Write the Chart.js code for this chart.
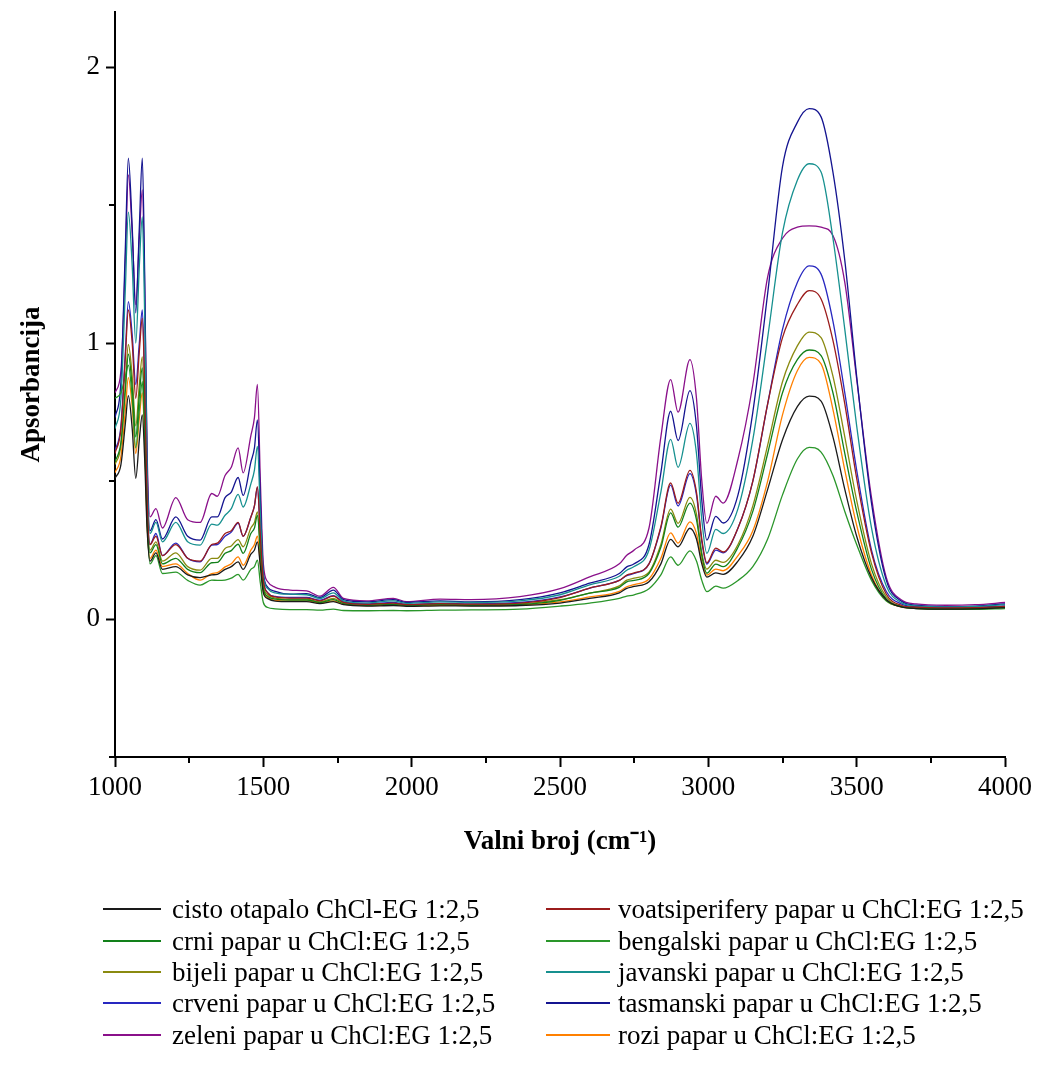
<!DOCTYPE html>
<html>
<head>
<meta charset="utf-8">
<script src="https://cdn.jsdelivr.net/npm/chart.js@4.4.0/dist/chart.umd.min.js"></script>
<style>
  body { margin: 0; background: #fff; }
  #wrap { position: relative; width: 1051px; height: 1066px; }
  #legend { position: absolute; left: 0; top: 0; width: 1051px; height: 1066px; pointer-events: none;
    font-family: 'Liberation Serif', 'Times New Roman', serif; font-size: 27px; color: #000; }
  .item { position: absolute; white-space: nowrap; line-height: 30px; }
  .item .ln { position: absolute; top: 14px; height: 1.5px; }
</style>
</head>
<body>
<div id="wrap">
  <canvas id="chart" width="1051" height="880"></canvas>
  <div id="legend"></div>
</div>
<script>
'use strict';

// wavenumber (cm-1)
const wavenumbers = [
  1000, 1020, 1035, 1045, 1058, 1070, 1082, 1092, 1100, 1108,
  1118, 1138, 1160, 1205, 1245, 1287, 1326, 1345, 1371, 1392,
  1415, 1432, 1458, 1470, 1480, 1490, 1500, 1515, 1540, 1590,
  1646, 1691, 1736, 1770, 1848, 1938, 1983, 2096, 2200, 2365,
  2500, 2600, 2700, 2725, 2750, 2800, 2840, 2873, 2898, 2938,
  2960, 2978, 2995, 3025, 3050, 3100, 3150, 3200, 3250, 3300,
  3340, 3380, 3420, 3460, 3500, 3550, 3600, 3650, 3700, 3800,
  3900, 4000
];

const cisto = [
  0.51, 0.56, 0.71, 0.81, 0.69, 0.51, 0.65, 0.74, 0.58, 0.33,
  0.21, 0.24, 0.18, 0.19, 0.16, 0.15, 0.16, 0.162, 0.18, 0.19,
  0.207, 0.18, 0.235, 0.25, 0.28, 0.19, 0.095, 0.074, 0.065, 0.063,
  0.063, 0.056, 0.063, 0.052, 0.047, 0.049, 0.046, 0.048, 0.047, 0.049,
  0.058, 0.075, 0.095, 0.111, 0.118, 0.135, 0.20, 0.289, 0.262, 0.329,
  0.29, 0.20, 0.152, 0.167, 0.162, 0.21, 0.30, 0.47, 0.65, 0.77,
  0.808, 0.79, 0.66, 0.47, 0.30, 0.15, 0.07, 0.044, 0.038, 0.036,
  0.037, 0.041
];
const voatsiperifery = [
  0.60, 0.69, 0.95, 1.12, 1.00, 0.80, 0.97, 1.09, 0.84, 0.44,
  0.27, 0.30, 0.23, 0.27, 0.22, 0.21, 0.27, 0.275, 0.31, 0.32,
  0.35, 0.30, 0.37, 0.41, 0.48, 0.30, 0.14, 0.095, 0.08, 0.076,
  0.076, 0.066, 0.083, 0.06, 0.053, 0.058, 0.052, 0.056, 0.054, 0.058,
  0.078, 0.112, 0.14, 0.159, 0.167, 0.20, 0.335, 0.493, 0.42, 0.539,
  0.46, 0.29, 0.204, 0.257, 0.243, 0.33, 0.50, 0.78, 1.02, 1.14,
  1.19, 1.16, 1.01, 0.78, 0.51, 0.24, 0.09, 0.05, 0.043, 0.04,
  0.041, 0.046
];
const crni = [
  0.57, 0.64, 0.83, 0.96, 0.84, 0.66, 0.81, 0.91, 0.71, 0.38,
  0.24, 0.27, 0.20, 0.22, 0.18, 0.168, 0.204, 0.205, 0.238, 0.248,
  0.271, 0.238, 0.31, 0.33, 0.376, 0.24, 0.11, 0.082, 0.072, 0.069,
  0.069, 0.06, 0.07, 0.056, 0.05, 0.053, 0.049, 0.052, 0.05, 0.053,
  0.068, 0.094, 0.115, 0.135, 0.14, 0.165, 0.26, 0.385, 0.333, 0.42,
  0.36, 0.23, 0.166, 0.199, 0.19, 0.26, 0.39, 0.60, 0.82, 0.94,
  0.975, 0.955, 0.82, 0.60, 0.39, 0.18, 0.072, 0.045, 0.04, 0.038,
  0.039, 0.043
];
const bengalski = [
  0.80, 0.82, 0.88, 0.92, 0.80, 0.62, 0.76, 0.86, 0.66, 0.36,
  0.20, 0.23, 0.165, 0.17, 0.14, 0.123, 0.141, 0.14, 0.141, 0.148,
  0.162, 0.141, 0.18, 0.19, 0.213, 0.13, 0.06, 0.042, 0.037, 0.034,
  0.034, 0.032, 0.036, 0.031, 0.03, 0.031, 0.03, 0.032, 0.033, 0.036,
  0.047, 0.058, 0.075, 0.083, 0.088, 0.11, 0.16, 0.225, 0.195, 0.247,
  0.21, 0.14, 0.099, 0.119, 0.112, 0.14, 0.19, 0.29, 0.45, 0.58,
  0.622, 0.605, 0.52, 0.39, 0.27, 0.14, 0.065, 0.045, 0.038, 0.035,
  0.035, 0.038
];
const bijeli = [
  0.56, 0.63, 0.85, 0.995, 0.88, 0.70, 0.85, 0.95, 0.74, 0.40,
  0.25, 0.28, 0.21, 0.24, 0.19, 0.177, 0.22, 0.22, 0.256, 0.265,
  0.288, 0.262, 0.33, 0.35, 0.388, 0.25, 0.12, 0.088, 0.076, 0.072,
  0.072, 0.062, 0.075, 0.058, 0.051, 0.055, 0.05, 0.053, 0.052, 0.055,
  0.07, 0.094, 0.12, 0.141, 0.148, 0.17, 0.27, 0.398, 0.347, 0.441,
  0.38, 0.24, 0.181, 0.213, 0.205, 0.27, 0.41, 0.63, 0.86, 0.99,
  1.04, 1.02, 0.88, 0.66, 0.43, 0.20, 0.08, 0.047, 0.041, 0.039,
  0.04, 0.044
];
const javanski = [
  0.69, 0.80, 1.20, 1.475, 1.28, 1.00, 1.28, 1.457, 1.10, 0.54,
  0.31, 0.35, 0.28, 0.35, 0.28, 0.268, 0.344, 0.34, 0.376, 0.40,
  0.452, 0.406, 0.49, 0.54, 0.626, 0.38, 0.16, 0.11, 0.095, 0.09,
  0.088, 0.075, 0.095, 0.066, 0.058, 0.066, 0.057, 0.062, 0.06, 0.066,
  0.088, 0.124, 0.155, 0.177, 0.19, 0.25, 0.46, 0.651, 0.55, 0.709,
  0.60, 0.36, 0.238, 0.325, 0.31, 0.40, 0.65, 1.02, 1.40, 1.59,
  1.65, 1.62, 1.38, 1.05, 0.70, 0.33, 0.12, 0.06, 0.048, 0.044,
  0.046, 0.052
];
const crveni = [
  0.61, 0.70, 0.97, 1.15, 1.03, 0.85, 1.00, 1.12, 0.86, 0.45,
  0.27, 0.31, 0.23, 0.275, 0.22, 0.207, 0.268, 0.27, 0.30, 0.315,
  0.348, 0.30, 0.37, 0.41, 0.477, 0.30, 0.14, 0.095, 0.082, 0.078,
  0.078, 0.068, 0.085, 0.062, 0.055, 0.06, 0.053, 0.057, 0.055, 0.06,
  0.08, 0.112, 0.14, 0.157, 0.165, 0.20, 0.33, 0.485, 0.41, 0.527,
  0.45, 0.28, 0.199, 0.25, 0.24, 0.33, 0.50, 0.78, 1.05, 1.22,
  1.28, 1.25, 1.08, 0.82, 0.54, 0.25, 0.10, 0.055, 0.045, 0.042,
  0.043, 0.048
];
const tasmanski = [
  0.73, 0.86, 1.35, 1.67, 1.42, 1.11, 1.42, 1.67, 1.25, 0.58,
  0.32, 0.36, 0.29, 0.37, 0.30, 0.286, 0.37, 0.37, 0.44, 0.46,
  0.513, 0.448, 0.569, 0.62, 0.722, 0.43, 0.17, 0.115, 0.10, 0.09,
  0.092, 0.078, 0.105, 0.07, 0.062, 0.07, 0.06, 0.066, 0.062, 0.07,
  0.095, 0.13, 0.165, 0.189, 0.20, 0.27, 0.53, 0.753, 0.647, 0.828,
  0.70, 0.43, 0.286, 0.372, 0.348, 0.45, 0.75, 1.18, 1.64, 1.80,
  1.85, 1.82, 1.62, 1.30, 0.88, 0.42, 0.14, 0.065, 0.05, 0.045,
  0.047, 0.055
];
const zeleni = [
  0.82, 0.90, 1.30, 1.61, 1.40, 1.14, 1.38, 1.555, 1.20, 0.62,
  0.37, 0.40, 0.33, 0.44, 0.36, 0.35, 0.455, 0.445, 0.52, 0.55,
  0.62, 0.53, 0.665, 0.73, 0.85, 0.50, 0.20, 0.135, 0.115, 0.105,
  0.102, 0.083, 0.115, 0.075, 0.066, 0.075, 0.063, 0.072, 0.07, 0.081,
  0.11, 0.153, 0.20, 0.231, 0.25, 0.33, 0.66, 0.868, 0.75, 0.94,
  0.80, 0.50, 0.347, 0.445, 0.42, 0.58, 0.85, 1.24, 1.38, 1.42,
  1.425, 1.42, 1.39, 1.22, 0.87, 0.44, 0.15, 0.07, 0.055, 0.05,
  0.052, 0.06
];
const rozi = [
  0.53, 0.59, 0.76, 0.875, 0.77, 0.60, 0.73, 0.82, 0.64, 0.35,
  0.22, 0.25, 0.19, 0.20, 0.165, 0.141, 0.165, 0.168, 0.189, 0.20,
  0.225, 0.195, 0.25, 0.27, 0.30, 0.20, 0.10, 0.078, 0.068, 0.066,
  0.066, 0.058, 0.066, 0.054, 0.049, 0.051, 0.048, 0.05, 0.049, 0.051,
  0.062, 0.08, 0.10, 0.117, 0.125, 0.145, 0.22, 0.312, 0.275, 0.352,
  0.31, 0.21, 0.159, 0.181, 0.175, 0.23, 0.32, 0.50, 0.74, 0.90,
  0.948, 0.925, 0.76, 0.54, 0.34, 0.16, 0.068, 0.044, 0.039, 0.037,
  0.038, 0.042
];

const seriesLabels = [
  'cisto otapalo ChCl-EG 1:2,5',
  'voatsiperifery papar u ChCl:EG 1:2,5',
  'crni papar u ChCl:EG 1:2,5',
  'bengalski papar u ChCl:EG 1:2,5',
  'bijeli papar u ChCl:EG 1:2,5',
  'javanski papar u ChCl:EG 1:2,5',
  'crveni papar u ChCl:EG 1:2,5',
  'tasmanski papar u ChCl:EG 1:2,5',
  'zeleni papar u ChCl:EG 1:2,5',
  'rozi papar u ChCl:EG 1:2,5'
];
const seriesValues = [cisto, voatsiperifery, crni, bengalski, bijeli, javanski, crveni, tasmanski, zeleni, rozi];
const seriesColors = ['#1a1a1a', '#9b1c1c', '#12801a', '#2a962a', '#8a8a10', '#16908f', '#2828c0', '#141490', '#8a108a', '#ff8000'];

const xMajorTicks = [1000, 1500, 2000, 2500, 3000, 3500, 4000];
const xMinorTicks = [1250, 1750, 2250, 2750, 3250, 3750];
const yMajorTicks = [0, 1, 2];
const yMinorTicks = [-0.5, 0.5, 1.5];

const serif = "'Liberation Serif', 'Times New Roman', serif";

const datasets = seriesLabels.map((label, i) => ({
  label,
  data: wavenumbers.map((x, j) => ({ x, y: seriesValues[i][j] })),
  borderColor: seriesColors[i],
  borderWidth: 1.3,
  pointRadius: 0,
  fill: false,
  cubicInterpolationMode: 'monotone'
}));

const minorTicks = {
  id: 'minorTicks',
  afterDraw(chart) {
    const c = chart.ctx;
    const xs = chart.scales.x, ys = chart.scales.y;
    const area = chart.chartArea;
    c.save();
    c.strokeStyle = '#000';
    c.lineWidth = 2;
    c.beginPath();
    xMinorTicks.forEach(v => {
      const px = Math.round(xs.getPixelForValue(v));
      c.moveTo(px, area.bottom);
      c.lineTo(px, area.bottom + 6);
    });
    yMinorTicks.forEach(v => {
      const py = Math.round(ys.getPixelForValue(v));
      c.moveTo(area.left, py);
      c.lineTo(area.left - 6, py);
    });
    c.stroke();
    c.restore();
  }
};

const ctx = document.getElementById('chart').getContext('2d');
new Chart(ctx, {
  type: 'line',
  data: { datasets },
  options: {
    responsive: false,
    animation: false,
    layout: { padding: { top: 12, right: 46, left: 0, bottom: 0 } },
    plugins: { legend: { display: false }, tooltip: { enabled: false } },
    scales: {
      x: {
        type: 'linear',
        min: 1000,
        max: 4000,
        afterBuildTicks: s => { s.ticks = xMajorTicks.map(v => ({ value: v })); },
        afterFit: s => { s.height = 123; s.paddingLeft = 0; s.paddingRight = 0; },
        ticks: { color: '#000', font: { family: serif, size: 27 }, padding: 5, maxRotation: 0, autoSkip: false,
                 callback: v => String(v) },
        grid: { drawOnChartArea: false, tickLength: 10, tickWidth: 2, tickColor: '#000' },
        border: { color: '#000', width: 2 },
        title: { display: true, text: 'Valni broj (cm\u207B\u00B9)', color: '#000',
                 font: { family: serif, size: 27, weight: 'bold' }, padding: { top: 4, bottom: 22 } }
      },
      y: {
        min: -0.5,
        max: 2.2,
        afterBuildTicks: s => { s.ticks = yMajorTicks.map(v => ({ value: v })); },
        afterFit: s => { s.width = 115; s.paddingTop = 0; s.paddingBottom = 0; },
        ticks: { color: '#000', font: { family: serif, size: 27 }, padding: 6, callback: v => String(v) },
        grid: { drawOnChartArea: false, tickLength: 9, tickWidth: 2, tickColor: '#000' },
        border: { color: '#000', width: 2 },
        title: { display: true, text: 'Apsorbancija', color: '#000',
                 font: { family: serif, size: 27, weight: 'bold' }, padding: { bottom: 0, top: 16 } }
      }
    }
  },
  plugins: [minorTicks]
});

// legend, two columns, row by row
const legendCols = [{ line: 103, text: 172, w: 58 }, { line: 546, text: 618, w: 64 }];
const legendRows = [909, 941, 972, 1003, 1035];
const legendEl = document.getElementById('legend');
seriesLabels.forEach((label, i) => {
  const col = legendCols[i % 2];
  const rowY = legendRows[Math.floor(i / 2)];
  const item = document.createElement('div');
  item.className = 'item';
  item.style.left = col.line + 'px';
  item.style.top = (rowY - 15) + 'px';
  item.style.paddingLeft = (col.text - col.line) + 'px';
  const ln = document.createElement('span');
  ln.className = 'ln';
  ln.style.left = '0px';
  ln.style.width = col.w + 'px';
  ln.style.background = seriesColors[i];
  item.appendChild(ln);
  item.appendChild(document.createTextNode(label));
  legendEl.appendChild(item);
});
</script>
</body>
</html>
